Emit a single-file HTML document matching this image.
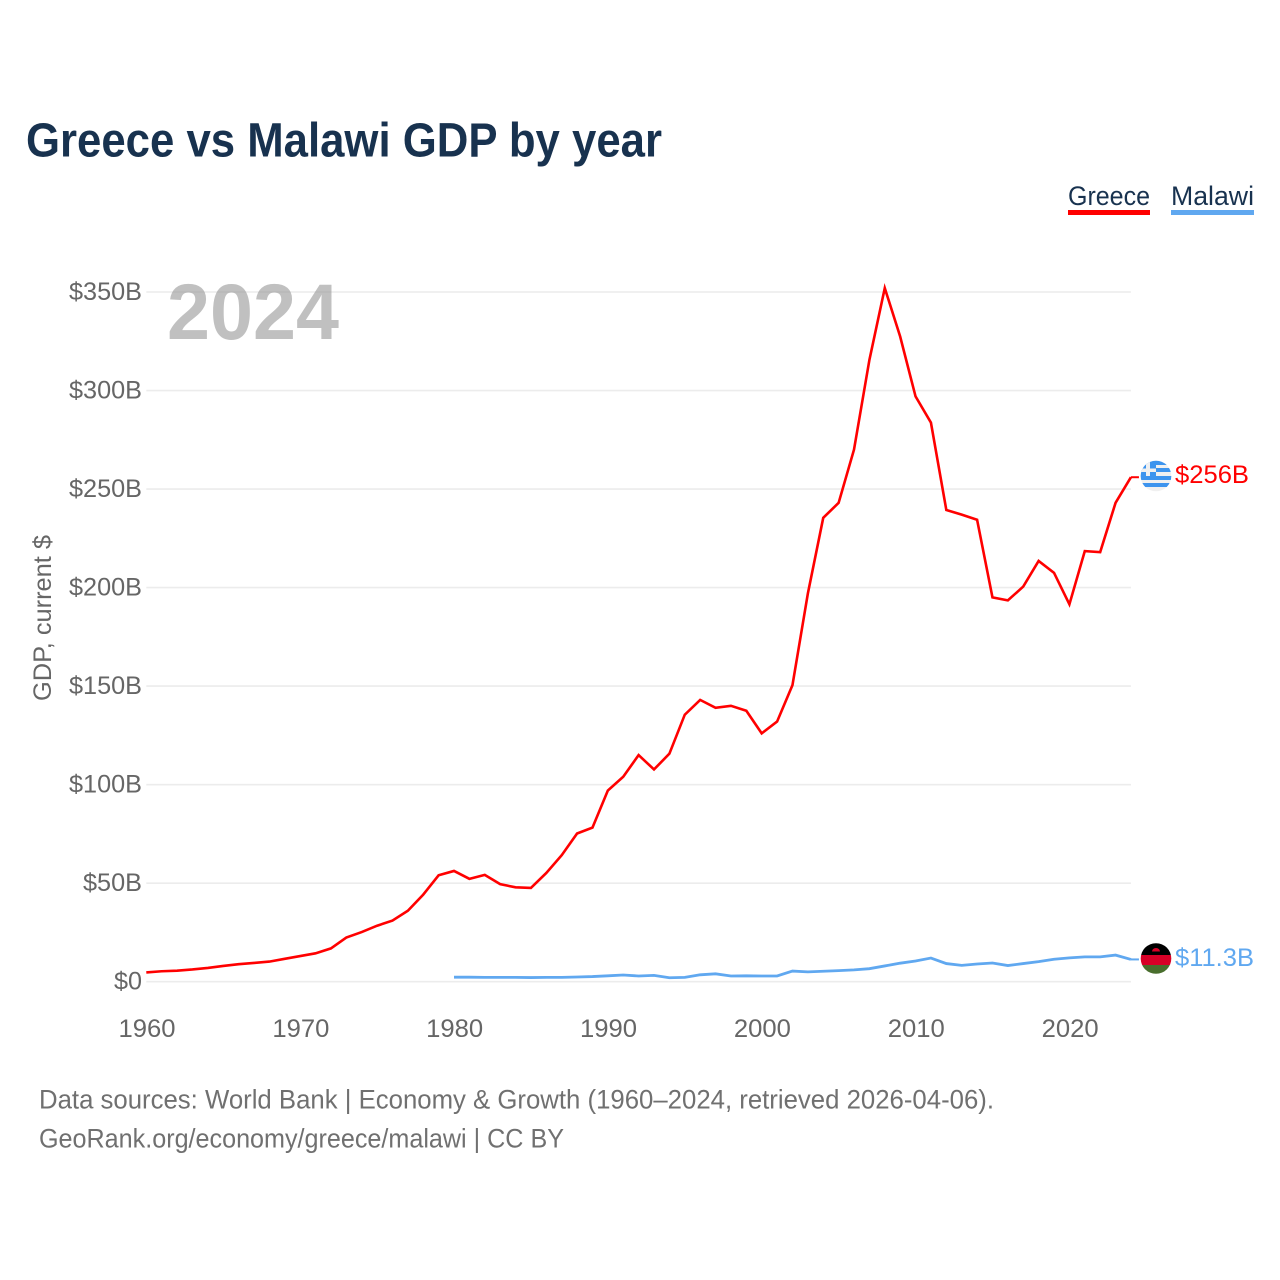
<!DOCTYPE html>
<html lang="en">
<head>
<meta charset="utf-8">
<title>Greece vs Malawi GDP by year</title>
<style>
html,body{margin:0;padding:0;background:#fff;}
svg{display:block;font-family:"Liberation Sans",sans-serif;}
</style>
</head>
<body>
<svg id="chart" xmlns="http://www.w3.org/2000/svg" width="1280" height="1280" viewBox="0 0 1280 1280">
  <defs>
    <clipPath id="clip-gr"><circle cx="1156" cy="476" r="15.3"/></clipPath>
    <clipPath id="clip-mw"><circle cx="1156" cy="958.5" r="15.3"/></clipPath>
  </defs>
  <rect width="1280" height="1280" fill="#fff"/>
  <text x="26" y="156.5" font-size="48" font-weight="700" fill="#18324f" textLength="636" lengthAdjust="spacingAndGlyphs">Greece vs Malawi GDP by year</text>

  <g>
    <g>
      <text x="1068" y="205" font-size="27" fill="#18324f" textLength="82" lengthAdjust="spacingAndGlyphs">Greece</text>
      <rect x="1068" y="210" width="82" height="5" fill="#ff0000"/>
    </g>
    <g>
      <text x="1171" y="205" font-size="27" fill="#18324f" textLength="83" lengthAdjust="spacingAndGlyphs">Malawi</text>
      <rect x="1171" y="210" width="83" height="5" fill="#60a8f0"/>
    </g>
  </g>

  <g id="grid"></g>
  <g id="yticks"></g>
  <g id="xticks"></g>

  <text transform="translate(51,701) rotate(-90)" font-size="25" fill="#666" textLength="166" lengthAdjust="spacingAndGlyphs">GDP, current $</text>
  <text x="167" y="339" font-size="79" font-weight="700" fill="#999" fill-opacity="0.62" textLength="172" lengthAdjust="spacingAndGlyphs">2024</text>

  <g id="series"></g>

  <g clip-path="url(#clip-gr)">
    <rect x="1140" y="460" width="32" height="32" fill="#f0f0f0"/>
    <rect x="1156" y="460" width="16" height="5" fill="#3d94ee"/>
    <rect x="1156" y="468" width="16" height="4" fill="#3d94ee"/>
    <rect x="1140" y="476" width="32" height="4" fill="#3d94ee"/>
    <rect x="1140" y="483" width="32" height="4" fill="#3d94ee"/>
    <rect x="1140" y="460" width="16" height="16" fill="#3d94ee"/>
    <rect x="1140" y="468.5" width="16" height="3.5" fill="#f0f0f0"/>
    <rect x="1146" y="460" width="4" height="16" fill="#f0f0f0"/>
  </g>
  <text id="label-gr" x="1175" y="483" font-size="25" fill="#ff0000" textLength="74" lengthAdjust="spacingAndGlyphs">$256B</text>

  <g clip-path="url(#clip-mw)">
    <rect x="1140" y="943" width="32" height="12" fill="#000"/>
    <rect x="1140" y="955" width="32" height="10" fill="#d80027"/>
    <rect x="1140" y="965" width="32" height="10" fill="#496e2d"/>
    <path d="M1152 951.5a4 3.5 0 0 1 8 0z" fill="#d80027"/>
  </g>
  <text id="label-mw" x="1175" y="966" font-size="25" fill="#60a8f0" textLength="79" lengthAdjust="spacingAndGlyphs">$11.3B</text>

  <text x="39" y="1108.5" font-size="27" fill="#707070" textLength="955" lengthAdjust="spacingAndGlyphs">Data sources: World Bank | Economy &amp; Growth (1960–2024, retrieved 2026-04-06).</text>
  <text x="39" y="1147.5" font-size="27" fill="#707070" textLength="525" lengthAdjust="spacingAndGlyphs">GeoRank.org/economy/greece/malawi | CC BY</text>
</svg>
<script>
const yTickValues = [0, 50, 100, 150, 200, 250, 300, 350];
const yTickLabels = ["$0", "$50B", "$100B", "$150B", "$200B", "$250B", "$300B", "$350B"];
const xTickYears = [1960, 1970, 1980, 1990, 2000, 2010, 2020];
const greeceStartYear = 1960;
const greeceGdp = [4.7, 5.3, 5.6, 6.2, 7, 8, 8.9, 9.5, 10.2, 11.6, 13, 14.4, 16.9, 22.4, 25.2, 28.4, 31, 36, 44.2, 54,
  56.2, 52.2, 54.2, 49.5, 47.9, 47.6, 55.2, 64.2, 75.2, 78.2, 97, 104, 115, 107.7, 115.7, 135.5, 143, 139, 140, 137.5,
  126, 132, 150.5, 197, 235.4, 243, 270, 315.5, 352, 327.4, 297, 283.7, 239.4, 237, 234.4, 195, 193.5, 200.5, 213.5, 207.5,
  191.5, 218.5, 218, 243, 256];
const malawiStartYear = 1980;
const malawiGdp = [2.3, 2.3, 2.2, 2.2, 2.2, 2.1, 2.2, 2.2, 2.4, 2.6,
  3, 3.4, 2.9, 3.2, 2, 2.2, 3.5, 4, 2.9, 3,
  2.9, 2.9, 5.4, 5, 5.3, 5.6, 6, 6.6, 8, 9.4,
  10.5, 12, 9.2, 8.3, 9, 9.5, 8.2, 9.2, 10.2, 11.4,
  12.1, 12.6, 12.6, 13.5, 11.3];

const SVG_NS = "http://www.w3.org/2000/svg";
function xScale(year) { return 146.3 + (year - 1960) * 15.385; }
function yScale(value) { return 981.7 - value * 1.9706; }

const gridGroup = document.getElementById("grid");
const yGroup = document.getElementById("yticks");
const xGroup = document.getElementById("xticks");
const seriesGroup = document.getElementById("series");

yTickValues.forEach(function (value, i) {
  const line = document.createElementNS(SVG_NS, "line");
  
  
  line.setAttribute("x1", xScale(1960));
  line.setAttribute("x2", xScale(2024));
  line.setAttribute("y1", yScale(value));
  line.setAttribute("y2", yScale(value));
  line.setAttribute("stroke", "#ececec");
  line.setAttribute("stroke-width", "1.6");
  gridGroup.appendChild(line);

  const label = document.createElementNS(SVG_NS, "text");
  
  
  label.setAttribute("x", 142);
  label.setAttribute("y", yScale(value) + 8);
  label.setAttribute("text-anchor", "end");
  label.setAttribute("font-size", "25");
  label.setAttribute("fill", "#666");
  label.textContent = yTickLabels[i];
  const width = yTickLabels[i].length === 2 ? 28 : yTickLabels[i].length === 4 ? 59 : 73;
  label.setAttribute("textLength", width);
  label.setAttribute("lengthAdjust", "spacingAndGlyphs");
  yGroup.appendChild(label);
});

xTickYears.forEach(function (year) {
  const label = document.createElementNS(SVG_NS, "text");
  
  
  label.setAttribute("x", xScale(year) + 0.7);
  label.setAttribute("y", 1037);
  label.setAttribute("text-anchor", "middle");
  label.setAttribute("font-size", "25");
  label.setAttribute("fill", "#666");
  label.setAttribute("textLength", "57");
  label.setAttribute("lengthAdjust", "spacingAndGlyphs");
  label.textContent = String(year);
  xGroup.appendChild(label);
});

function seriesPoints(startYear, values) {
  return values.map(function (value, i) {
    return xScale(startYear + i).toFixed(2) + "," + yScale(value).toFixed(2);
  });
}

const greeceLine = document.createElementNS(SVG_NS, "polyline");


greeceLine.setAttribute("points", seriesPoints(greeceStartYear, greeceGdp).join(" "));
greeceLine.setAttribute("fill", "none");
greeceLine.setAttribute("stroke", "#ff0000");
greeceLine.setAttribute("stroke-width", "2.6");
greeceLine.setAttribute("stroke-linejoin", "miter");
seriesGroup.appendChild(greeceLine);

const malawiLine = document.createElementNS(SVG_NS, "polyline");


malawiLine.setAttribute("points", seriesPoints(malawiStartYear, malawiGdp).join(" "));
malawiLine.setAttribute("fill", "none");
malawiLine.setAttribute("stroke", "#60a8f0");
malawiLine.setAttribute("stroke-width", "2.8");
seriesGroup.appendChild(malawiLine);

const greeceStub = document.createElementNS(SVG_NS, "line");


greeceStub.setAttribute("x1", xScale(2024));
greeceStub.setAttribute("x2", xScale(2024) + 8);
greeceStub.setAttribute("y1", yScale(greeceGdp[greeceGdp.length - 1]));
greeceStub.setAttribute("y2", yScale(greeceGdp[greeceGdp.length - 1]));
greeceStub.setAttribute("stroke", "#ff0000");
greeceStub.setAttribute("stroke-width", "2");
seriesGroup.appendChild(greeceStub);

const malawiStub = document.createElementNS(SVG_NS, "line");


malawiStub.setAttribute("x1", xScale(2024));
malawiStub.setAttribute("x2", xScale(2024) + 8);
malawiStub.setAttribute("y1", yScale(malawiGdp[malawiGdp.length - 1]));
malawiStub.setAttribute("y2", yScale(malawiGdp[malawiGdp.length - 1]));
malawiStub.setAttribute("stroke", "#60a8f0");
malawiStub.setAttribute("stroke-width", "2");
seriesGroup.appendChild(malawiStub);
</script>
</body>
</html>
